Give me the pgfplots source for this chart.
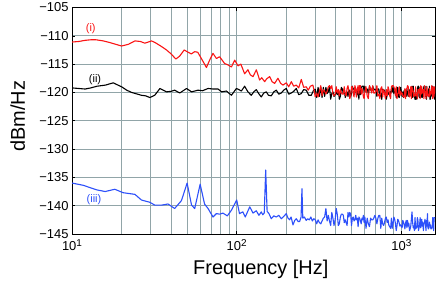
\documentclass[border=0pt]{standalone}
\usepackage{fontspec}
\setmainfont{Liberation Sans}
\usepackage{pgfplots}
\usepackage{pgfplotstable}
\pgfplotsset{compat=1.18}
\definecolor{gridc}{RGB}{145,165,168}
\definecolor{redc}{RGB}{250,20,20}
\definecolor{bluec}{RGB}{45,80,250}
\pgfplotstableread{
f r k b
300 -120.8 -119.4 -142.5
306 -120.1 -120.9 -143.2
312 -120.8 -119.1 -142.5
318 -119.8 -120.7 -143.0
324 -118.8 -119.1 -143.2
330 -120.6 -120.9 -142.7
336 -119.5 -119.1 -142.2
342 -119.8 -120.7 -142.0
348 -120.3 -119.1 -140.5
354 -119.8 -120.2 -142.7
360 -119.0 -119.9 -141.7
366 -118.8 -118.9 -142.7
372 -119.3 -121.2 -143.5
378 -118.8 -120.2 -141.2
384 -120.3 -119.9 -142.2
390 -120.6 -120.7 -143.5
396 -120.3 -120.4 -142.5
402 -119.0 -119.9 -140.5
408 -120.1 -120.4 -141.5
414 -119.5 -119.6 -143.5
420 -120.6 -121.2 -143.2
426 -119.5 -120.7 -142.0
432 -120.1 -119.1 -141.5
438 -120.3 -119.4 -141.5
444 -120.3 -120.2 -141.7
450 -119.0 -119.4 -143.0
456 -120.3 -120.9 -142.5
462 -120.6 -120.4 -143.0
468 -119.3 -119.9 -143.5
474 -118.8 -120.7 -141.2
480 -119.8 -119.6 -142.0
486 -121.1 -119.6 -141.2
492 -120.6 -120.7 -141.5
498 -119.0 -120.2 -143.5
504 -119.0 -118.9 -142.2
510 -120.1 -119.4 -142.0
516 -120.8 -119.4 -142.7
522 -118.8 -119.9 -142.5
528 -119.3 -119.4 -141.7
534 -120.8 -120.7 -142.5
540 -119.5 -120.2 -142.2
546 -118.8 -119.4 -143.7
552 -120.3 -121.2 -142.0
558 -118.8 -118.9 -142.2
564 -118.8 -120.4 -142.7
570 -120.3 -119.6 -143.2
576 -119.3 -118.9 -142.2
582 -119.8 -118.9 -142.5
588 -120.8 -118.9 -141.7
594 -121.1 -119.9 -143.0
600 -119.8 -118.9 -142.0
610 -119.0 -119.9 -144.0
620 -120.6 -119.4 -142.2
630 -121.1 -120.2 -143.2
640 -118.8 -118.9 -143.7
650 -119.3 -119.6 -142.2
660 -120.1 -119.6 -142.5
670 -118.8 -118.9 -142.5
680 -120.1 -119.6 -142.2
690 -120.1 -119.4 -141.7
700 -119.8 -119.6 -142.2
710 -118.8 -120.7 -143.2
720 -120.6 -119.4 -142.2
730 -120.3 -119.4 -141.7
740 -121.1 -120.7 -141.7
750 -119.3 -120.2 -144.0
760 -119.0 -121.2 -142.2
770 -120.8 -119.4 -143.2
780 -119.5 -119.6 -143.5
790 -120.1 -119.6 -143.0
800 -121.1 -120.4 -142.2
810 -119.5 -121.2 -142.0
820 -120.6 -120.4 -143.0
830 -119.0 -119.9 -142.5
840 -119.5 -120.4 -143.5
850 -120.6 -119.9 -143.7
860 -121.1 -120.2 -144.0
870 -119.0 -119.4 -142.2
880 -118.8 -119.9 -144.0
890 -118.8 -118.9 -143.2
900 -119.0 -120.2 -142.0
910 -119.5 -119.9 -142.4
920 -120.6 -119.4 -143.1
930 -119.0 -120.9 -144.4
940 -121.1 -120.4 -143.6
950 -120.3 -119.1 -142.4
960 -120.1 -120.7 -142.6
970 -119.0 -120.9 -143.1
980 -120.6 -119.4 -143.6
990 -119.8 -119.1 -143.4
1000 -120.3 -119.9 -143.6
1010 -120.1 -120.7 -143.9
1020 -120.6 -119.9 -142.6
1030 -120.8 -120.9 -142.9
1040 -120.8 -119.6 -143.4
1050 -119.3 -119.6 -144.1
1060 -121.1 -120.2 -143.1
1070 -119.5 -120.7 -142.6
1080 -119.3 -119.4 -143.9
1090 -118.8 -120.2 -142.6
1100 -119.0 -120.7 -143.6
1110 -120.6 -119.4 -143.1
1120 -120.8 -120.2 -144.4
1130 -120.1 -119.6 -144.1
1140 -119.0 -119.6 -143.6
1150 -121.1 -120.4 -142.4
1160 -119.0 -118.9 -141.1
1170 -119.5 -120.9 -142.9
1180 -119.8 -118.9 -143.9
1190 -120.8 -120.4 -143.6
1200 -120.3 -120.7 -144.4
1210 -120.6 -121.2 -142.1
1220 -119.0 -121.2 -144.1
1230 -120.6 -120.4 -143.9
1240 -120.3 -121.2 -143.9
1250 -121.1 -119.9 -142.1
1260 -119.5 -118.9 -142.6
1270 -119.5 -118.9 -144.4
1280 -120.1 -120.7 -143.9
1290 -119.3 -120.9 -143.4
1300 -121.1 -119.1 -142.1
1310 -118.8 -120.9 -143.9
1320 -120.3 -119.4 -143.4
1330 -119.0 -120.2 -142.4
1340 -120.1 -120.9 -143.6
1350 -120.1 -120.4 -142.9
1360 -119.5 -119.9 -144.4
1370 -121.1 -118.9 -143.1
1380 -118.8 -119.6 -143.1
1390 -119.8 -119.6 -142.4
1400 -119.8 -120.7 -143.1
1410 -121.1 -118.9 -144.4
1420 -119.8 -121.2 -142.6
1430 -119.0 -120.2 -143.6
1440 -120.6 -120.4 -141.4
1450 -120.6 -119.9 -143.9
1460 -120.3 -119.4 -144.1
1470 -120.8 -120.7 -143.9
1480 -119.3 -118.9 -142.9
1490 -120.6 -121.2 -143.4
1500 -119.8 -121.2 -143.4
1510 -120.3 -120.4 -144.1
1520 -119.8 -120.4 -143.9
1530 -118.8 -120.2 -144.1
1540 -120.1 -120.7 -143.4
1550 -121.1 -118.9 -142.1
1560 -119.0 -119.9 -142.6
1570 -120.8 -120.7 -144.4
1580 -120.6 -119.6 -142.1
1590 -119.0 -121.2 -142.1
1600 -120.1 -119.9 -142.1
}\hightab
\begin{document}
\begin{tikzpicture}
\useasboundingbox (-72bp,-47bp) rectangle (364bp,234bp);
\begin{axis}[
  at={(0,0)}, anchor=south west,
  scale only axis,
  width=363bp, height=226.5bp,
  xmode=log,
  xmin=10, xmax=1600,
  ymin=-145, ymax=-105,
  xtick={10,100,1000},
  xticklabels={10\raisebox{0.6ex}{\fontsize{10}{12}\selectfont 1},10\raisebox{0.6ex}{\fontsize{10}{12}\selectfont 2},10\raisebox{0.6ex}{\fontsize{10}{12}\selectfont 3}},
  ytick={-145,-140,-135,-130,-125,-120,-115,-110,-105},
  yticklabels={−145,−140,−135,−130,−125,−120,−115,−110,−105},
  tick label style={font=\fontsize{13}{15}\selectfont},
  xmajorgrids=true, xminorgrids=true, ymajorgrids=true,
  grid style={color=gridc, line width=0.8bp},
  minor grid style={color=gridc, line width=0.8bp},
  tick align=inside,
  major tick length=3bp, minor tick length=0pt,
  tick style={black, line width=0.6bp},
  axis line style={black, line width=0.8bp},
  xlabel={Frequency [Hz]},
  ylabel={dBm/Hz},
  label style={font=\fontsize{20}{24}\selectfont},
  xlabel style={at={(axis description cs:0.52,-0.181)}, anchor=base},
  ylabel style={at={(axis description cs:-0.1295,0.52)}, anchor=base},
  xticklabel style={yshift=-2bp},
  every axis plot/.append style={line width=1.1bp, line join=round},
  clip=true,
]
% black (ii)
\addplot[black] coordinates {
(10,-119.2) (11,-119.3) (12,-119.4) (13,-119.2) (14.2,-118.9) (16,-118.7) (17.8,-118.3) (19,-118.7) (20,-119.0) (21.5,-119.6) (23,-120.0) (26.4,-120.5) (28,-120.6) (29.7,-120.9) (31.8,-120.5) (34.2,-119.3) (37.5,-119.9) (40,-119.8) (42,-119.6) (45.1,-120.1) (49.6,-119.3) (53.2,-119.9) (58.2,-119.6) (62,-119.7) (67,-119.3) (72,-119.4) (77.1,-119.4) (81,-119.9) (86.6,-119.75) (92.9,-120.5) (99.6,-119.3) (103,-119.5) (106.8,-119.75) (111.7,-118.9) (117,-119.9) (122.6,-120.5) (127,-119.9) (131.5,-119.5) (136,-120.2) (141,-120.8) (146,-120.1) (151.3,-119.9) (156,-120.5) (162.2,-120.6) (168,-119.9) (174,-119.6) (180,-120.3) (186.6,-120.1) (193,-119.6) (200,-119.3) (207,-120.3) (214.6,-120.1) (222,-119.8) (230,-119.3) (238,-120.4) (246.7,-120.2) (255,-119.5) (264.5,-119.6) (274,-120.5) (283.7,-120.5) (292,-119.7) (300,-119.4)
};
\addplot[black] table[x=f, y=k] {\hightab};
% red (i)
\addplot[redc] coordinates {
(10,-111.1) (11,-111.0) (12,-110.8) (13,-110.7) (14,-110.7) (15.5,-110.9) (17,-111.2) (20,-111.8) (22,-111.5) (24.1,-110.9) (26,-111.0) (27.7,-111.3) (30.4,-110.9) (32,-111.2) (35,-111.9) (37.5,-112.5) (40,-113.2) (42.7,-114.1) (45,-113.6) (48,-112.5) (50,-112.8) (53,-113.2) (55.6,-112.8) (58,-112.9) (61,-114.0) (65.5,-115.6) (68,-114.5) (71.8,-113.1) (75.3,-114.0) (78.8,-113.7) (84.5,-114.9) (88,-115.1) (92.9,-115.5) (97.2,-114.3) (101.9,-115.3) (106,-115.0) (111.7,-116.7) (117,-116.0) (121,-116.9) (125.6,-117.2) (131.6,-116.0) (137.8,-117.8) (142,-117.4) (147.8,-118.1) (152,-117.6) (158.5,-117.2) (164,-118.1) (170,-118.4) (178,-117.5) (185,-118.4) (191,-118.7) (200,-118.3) (207,-119.0) (214.6,-118.1) (222,-118.9) (230,-118.7) (238,-119.2) (246.7,-117.7) (255,-119.1) (264.5,-119.0) (272,-119.6) (280,-118.9) (290,-118.7) (295,-119.6) (300,-120.8)
};
\addplot[redc] table[x=f, y=r] {\hightab};
% blue (iii)
\addplot[bluec] coordinates {
(10,-136.0) (11.7,-136.4) (14.1,-137.2) (15.9,-137.5) (18.2,-137.1) (20.4,-137.7) (24.1,-138.0) (26.4,-139.0) (29.7,-139.4) (31.8,-139.9) (35,-139.9) (38.3,-139.7) (42,-140.5) (46.2,-139.1) (50,-136.0) (53.2,-139.9) (55.6,-140.5) (60,-136.2) (63.8,-139.7) (67,-140.5) (71.8,-142.0) (75.3,-141.4) (78.8,-141.5) (82.4,-141.3) (87.7,-141.8) (92.9,-140.8) (100,-139.0) (104,-141.4) (109,-141.1) (112.7,-142.0) (120,-140.2) (125.6,-141.3) (131.5,-140.9) (136.5,-141.7) (141,-141.1) (144,-141.6) (147,-141.3) (150,-133.7) (153,-141.0) (157,-141.4) (162.2,-142.3) (168,-141.8) (174,-142.0) (180,-141.7) (186.6,-142.3) (193,-141.9) (200,-141.4) (205,-142.2) (209.6,-142.5) (214,-142.0) (219.7,-143.4) (225,-142.6) (230,-142.3) (236,-142.8) (241,-142.8) (246,-142.0) (249,-137.0) (252,-142.2) (258,-142.0) (264,-142.6) (270,-142.3) (276,-142.5) (282,-142.0) (288,-142.7) (294,-142.3) (300,-142.5)
};
\addplot[bluec] table[x=f, y=b] {\hightab};
\node[redc, font=\fontsize{11}{13}\selectfont] at (axis cs:13.0,-108.7) {(i)};
\node[black, font=\fontsize{11}{13}\selectfont] at (axis cs:13.8,-117.8) {(ii)};
\node[bluec, font=\fontsize{11}{13}\selectfont] at (axis cs:13.6,-139.0) {(iii)};
\end{axis}
\end{tikzpicture}
\end{document}
